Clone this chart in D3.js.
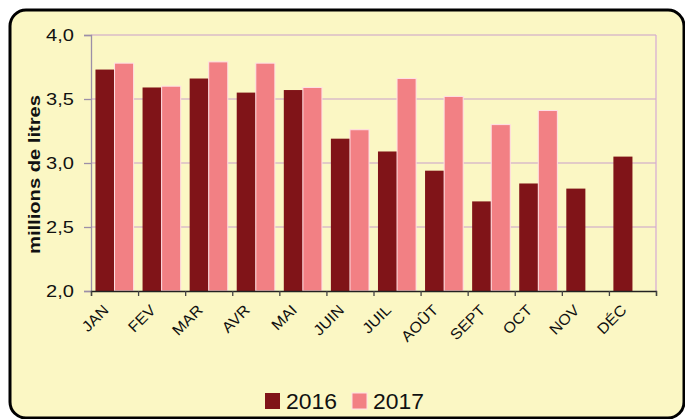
<!DOCTYPE html>
<html>
<head>
<meta charset="utf-8">
<script src="https://cdn.jsdelivr.net/npm/d3@7"></script>
<style>
  body { margin: 0; background: #fff; }
  text { font-family: Arial, "Liberation Sans", sans-serif; fill: #111; }
</style>
</head>
<body>
<div id="chart"></div>
<script>
// data
var months = ["JAN", "FEV", "MAR", "AVR", "MAI", "JUIN", "JUIL", "AOÛT", "SEPT", "OCT", "NOV", "DÉC"];
var years = ["2016", "2017"];
var values2016 = [3.73, 3.59, 3.66, 3.55, 3.57, 3.19, 3.09, 2.94, 2.70, 2.84, 2.80, 3.05];
var values2017 = [3.78, 3.60, 3.79, 3.78, 3.59, 3.26, 3.66, 3.52, 3.30, 3.41, null, null];
var yTicks = [2.0, 2.5, 3.0, 3.5, 4.0];

var colors = { "2016": "#801418", "2017": "#F28084" };

var svgWidth = 685, svgHeight = 419;
var margin = { top: 35, right: 29, bottom: 128, left: 91 };
var width = svgWidth - margin.left - margin.right;
var height = svgHeight - margin.top - margin.bottom;

// widen text a bit, the original font is rendered wider than Arial
function stretch(sel, k) {
  sel.each(function () {
    var l = this.getComputedTextLength();
    d3.select(this).attr("textLength", l * k).attr("lengthAdjust", "spacingAndGlyphs");
  });
}

var svg = d3.select("#chart").append("svg")
  .attr("width", svgWidth)
  .attr("height", svgHeight);

// outer rounded frame
svg.append("rect")
  .attr("x", 10).attr("y", 10)
  .attr("width", 674).attr("height", 408)
  .attr("rx", 16).attr("ry", 16)
  .attr("fill", "#FBF7C4")
  .attr("stroke", "#000")
  .attr("stroke-width", 3);

var chartGroup = svg.append("g")
  .attr("transform", `translate(${margin.left}, ${margin.top})`);

var x0 = d3.scaleBand().domain(months).range([0, width]).paddingInner(0.19).paddingOuter(0.095);
var x1 = d3.scaleBand().domain(years).range([0, x0.bandwidth()]);
var y = d3.scaleLinear().domain([2, 4]).range([height, 0]);
var xTickScale = d3.scaleLinear().domain([0, months.length]).range([0, width]);

// gridlines
chartGroup.append("g")
  .selectAll("line")
  .data(yTicks.slice(1))
  .enter().append("line")
  .attr("x1", 0).attr("x2", width)
  .attr("y1", d => y(d)).attr("y2", d => y(d))
  .attr("stroke", "#C99FC9")
  .attr("stroke-width", 1.2);

// right border of plot
chartGroup.append("line")
  .attr("x1", width).attr("x2", width)
  .attr("y1", 0).attr("y2", height)
  .attr("stroke", "#D6A9D6").attr("stroke-width", 1.2);

// bars
var rows = months.map((m, i) => ({ month: m, vals: [
  { year: "2016", v: values2016[i] },
  { year: "2017", v: values2017[i] }
] }));

chartGroup.selectAll(".grp")
  .data(rows)
  .enter().append("g")
  .attr("transform", d => `translate(${x0(d.month)},0)`)
  .selectAll("rect")
  .data(d => d.vals.filter(e => e.v != null))
  .enter().append("rect")
  .attr("x", d => x1(d.year))
  .attr("y", d => y(d.v))
  .attr("width", x1.bandwidth())
  .attr("height", d => height - y(d.v))
  .attr("fill", d => colors[d.year])
  .attr("stroke", d => d.year == "2017" ? "#FFE0E6" : "none")
  .attr("stroke-width", 1);

// y axis
var leftAxis = d3.axisLeft(y).tickValues(yTicks).tickSize(7).tickPadding(10)
  .tickFormat(d => d3.format(".1f")(d).replace(".", ","));
var yAxisG = chartGroup.append("g").call(leftAxis);
yAxisG.select(".domain").attr("stroke", "#9C8FA8").attr("stroke-width", 1.3);
yAxisG.selectAll(".tick line").attr("stroke", "#9C8FA8").attr("stroke-width", 1.3);
yAxisG.selectAll("text").style("font-size", "17px").attr("fill", "#111");
stretch(yAxisG.selectAll("text"), 1.18);

// x axis
var bottomAxis = d3.axisBottom(xTickScale).tickValues(d3.range(months.length + 1))
  .tickSize(5).tickFormat("");
var xAxisG = chartGroup.append("g")
  .attr("transform", `translate(0, ${height})`)
  .call(bottomAxis);
xAxisG.select(".domain").attr("stroke", "#222").attr("stroke-width", 1.3);
xAxisG.selectAll(".tick line").attr("stroke", "#444").attr("stroke-width", 1.3);

// month labels, rotated
var monthLabels = chartGroup.append("g").selectAll("text")
  .data(months)
  .enter().append("text")
  .attr("transform", d => `translate(${x0(d) + x0.bandwidth() / 2 - 5}, ${height + 20}) rotate(-45)`)
  .attr("text-anchor", "end")
  .style("font-size", "15px")
  .text(d => d);
stretch(monthLabels, 1.08);

// y axis title
var yTitle = chartGroup.append("text")
  .attr("transform", "rotate(-90)")
  .attr("x", -139.5)
  .attr("y", -51)
  .attr("text-anchor", "middle")
  .style("font-size", "16px")
  .style("font-weight", "bold")
  .text("millions de litres");
yTitle.attr("textLength", 159).attr("lengthAdjust", "spacingAndGlyphs");

// legend
var legend = svg.append("g").attr("transform", "translate(265, 393)");
var legendX = [0, 87];
years.forEach(function (yr, i) {
  var g = legend.append("g").attr("transform", `translate(${legendX[i]}, 0)`);
  g.append("rect")
    .attr("width", 15).attr("height", 16)
    .attr("fill", colors[yr])
    .attr("stroke", i == 1 ? "#FFE0E6" : "none");
  g.append("text")
    .attr("x", 21).attr("y", 16)
    .style("font-size", "22px")
    .attr("textLength", 51)
    .attr("lengthAdjust", "spacingAndGlyphs")
    .text(yr);
});
</script>
</body>
</html>
